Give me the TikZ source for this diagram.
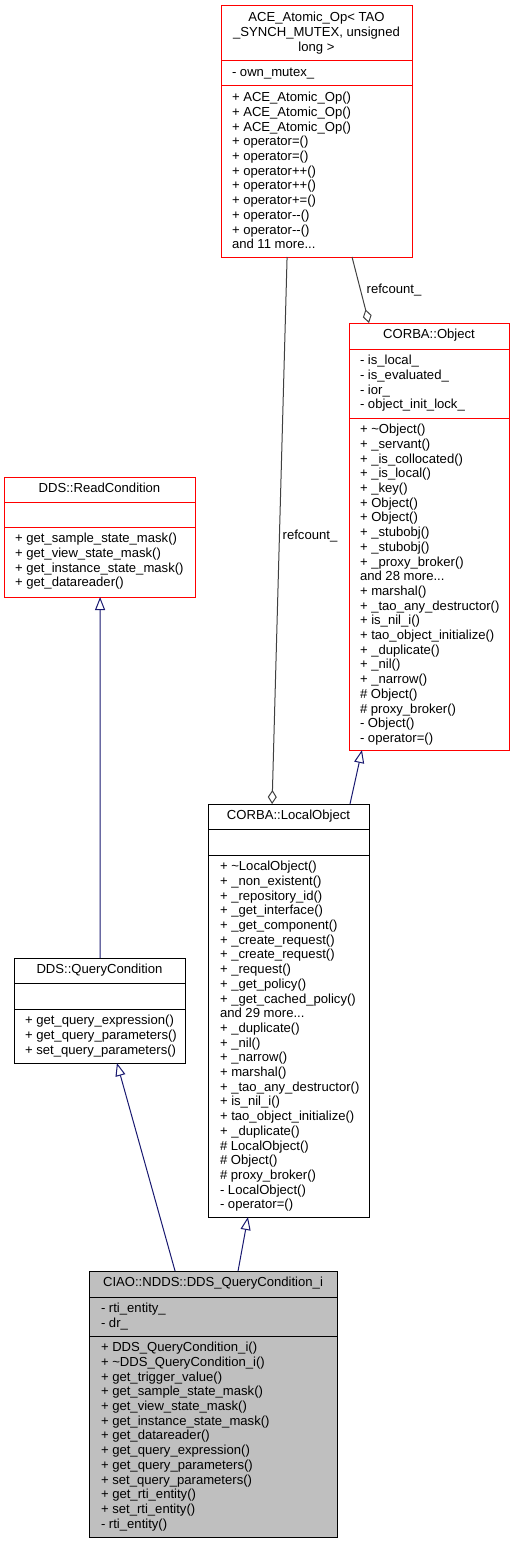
\documentclass[tikz,border=0pt]{standalone}
\usepackage{fontspec}
\setmainfont{Liberation Sans}
\usetikzlibrary{arrows.meta,calc}
\definecolor{edgegray}{HTML}{404040}
\definecolor{navyblue}{HTML}{191970}
\definecolor{boxred}{HTML}{FF0000}
\definecolor{fillgray}{HTML}{BFBFBF}
\newcommand{\fs}{\rule{0pt}{11pt}}
\newcommand{\tld}{\textasciitilde}
\begin{document}
\begin{tikzpicture}[x=1pt,y=-1pt,
  redbox/.style={draw=boxred, line width=1pt, inner sep=0pt, outer sep=0pt, anchor=north west},
  blackbox/.style={draw=black, line width=1pt, inner sep=0pt, outer sep=0pt, anchor=north west},
  txt/.style={inner sep=0pt, outer sep=0pt, align=left, anchor=north west, font=\fontsize{13.1}{14.7}\selectfont},
  ttl/.style={inner sep=0pt, outer sep=0pt, align=center, anchor=north, font=\fontsize{13.1}{14.7}\selectfont},
  lbl/.style={inner sep=0pt, outer sep=0pt, font=\fontsize{13.1}{14.7}\selectfont},
  agg/.style={draw=edgegray, line width=1pt, -{Diamond[open,length=14pt,width=9pt]}},
  inh/.style={draw=navyblue, line width=1pt, -{Triangle[open,length=13pt,width=10pt]}}
]
\useasboundingbox (0,0) rectangle (515,1544);

% ---------- ACE_Atomic_Op ----------
\node[redbox, minimum width=191pt, minimum height=251pt] (ace) at (221,6) {};
\draw[boxred, line width=1pt] (ace.west |- 0,61) -- (ace.east |- 0,61);
\draw[boxred, line width=1pt] (ace.west |- 0,86) -- (ace.east |- 0,86);
\node[ttl] (acet) at (316.5,10.7) {\fs ACE\_Atomic\_Op< TAO\\\_SYNCH\_MUTEX, unsigned\\long >};
\node[txt] (acea) at (232,65.7) {\fs - own\_mutex\_};
\node[txt] (acem) at (232,90.7) {\fs + ACE\_Atomic\_Op()\\+ ACE\_Atomic\_Op()\\+ ACE\_Atomic\_Op()\\+ operator=()\\+ operator=()\\+ operator++()\\+ operator++()\\+ operator+=()\\+ operator-{}-()\\+ operator-{}-()\\and 11 more...};

% ---------- CORBA::Object ----------
\node[redbox, minimum width=160pt, minimum height=427pt] (obj) at (349,323) {};
\draw[boxred, line width=1pt] (obj.west |- 0,349) -- (obj.east |- 0,349);
\draw[boxred, line width=1pt] (obj.west |- 0,418) -- (obj.east |- 0,418);
\node[ttl] (objt) at (429,327.7) {\fs CORBA::Object};
\node[txt] (obja) at (360,353.7) {\fs - is\_local\_\\- is\_evaluated\_\\- ior\_\\- object\_init\_lock\_};
\node[txt] (objm) at (360,422.7) {\fs + \tld Object()\\+ \_servant()\\+ \_is\_collocated()\\+ \_is\_local()\\+ \_key()\\+ Object()\\+ Object()\\+ \_stubobj()\\+ \_stubobj()\\+ \_proxy\_broker()\\and 28 more...\\+ marshal()\\+ \_tao\_any\_destructor()\\+ is\_nil\_i()\\+ tao\_object\_initialize()\\+ \_duplicate()\\+ \_nil()\\+ \_narrow()\\\# Object()\\\# proxy\_broker()\\- Object()\\- operator=()};

% ---------- DDS::ReadCondition ----------
\node[redbox, minimum width=191pt, minimum height=120pt] (rc) at (4,477) {};
\draw[boxred, line width=1pt] (rc.west |- 0,502) -- (rc.east |- 0,502);
\draw[boxred, line width=1pt] (rc.west |- 0,527) -- (rc.east |- 0,527);
\node[ttl] (rct) at (99.5,481.7) {\fs DDS::ReadCondition};
\node[txt] (rcm) at (15,531.7) {\fs + get\_sample\_state\_mask()\\+ get\_view\_state\_mask()\\+ get\_instance\_state\_mask()\\+ get\_datareader()};

% ---------- DDS::QueryCondition ----------
\node[blackbox, minimum width=171pt, minimum height=105pt] (qc) at (14,958) {};
\draw[black, line width=1pt] (qc.west |- 0,983) -- (qc.east |- 0,983);
\draw[black, line width=1pt] (qc.west |- 0,1009) -- (qc.east |- 0,1009);
\node[ttl] (qct) at (99.5,962.7) {\fs DDS::QueryCondition};
\node[txt] (qcm) at (25,1013.7) {\fs + get\_query\_expression()\\+ get\_query\_parameters()\\+ set\_query\_parameters()};

% ---------- CORBA::LocalObject ----------
\node[blackbox, minimum width=161pt, minimum height=413pt] (lo) at (208,804) {};
\draw[black, line width=1pt] (lo.west |- 0,829) -- (lo.east |- 0,829);
\draw[black, line width=1pt] (lo.west |- 0,855) -- (lo.east |- 0,855);
\node[ttl] (lot) at (288.5,808.7) {\fs CORBA::LocalObject};
\node[txt] (lom) at (220,859.7) {\fs + \tld LocalObject()\\+ \_non\_existent()\\+ \_repository\_id()\\+ \_get\_interface()\\+ \_get\_component()\\+ \_create\_request()\\+ \_create\_request()\\+ \_request()\\+ \_get\_policy()\\+ \_get\_cached\_policy()\\and 29 more...\\+ \_duplicate()\\+ \_nil()\\+ \_narrow()\\+ marshal()\\+ \_tao\_any\_destructor()\\+ is\_nil\_i()\\+ tao\_object\_initialize()\\+ \_duplicate()\\\# LocalObject()\\\# Object()\\\# proxy\_broker()\\- LocalObject()\\- operator=()};

% ---------- CIAO::NDDS::DDS_QueryCondition_i ----------
\node[blackbox, fill=fillgray, minimum width=248pt, minimum height=266pt] (ciao) at (89,1271) {};
\draw[black, line width=1pt] (ciao.west |- 0,1297) -- (ciao.east |- 0,1297);
\draw[black, line width=1pt] (ciao.west |- 0,1336) -- (ciao.east |- 0,1336);
\node[ttl] (ciaot) at (213,1275.7) {\fs CIAO::NDDS::DDS\_QueryCondition\_i};
\node[txt] (ciaoa) at (101,1301.7) {\fs - rti\_entity\_\\- dr\_};
\node[txt] (ciaom) at (101,1340.7) {\fs + DDS\_QueryCondition\_i()\\+ \tld DDS\_QueryCondition\_i()\\+ get\_trigger\_value()\\+ get\_sample\_state\_mask()\\+ get\_view\_state\_mask()\\+ get\_instance\_state\_mask()\\+ get\_datareader()\\+ get\_query\_expression()\\+ get\_query\_parameters()\\+ set\_query\_parameters()\\+ get\_rti\_entity()\\+ set\_rti\_entity()\\- rti\_entity()};

% ---------- connectors ----------
\draw[agg] ($(ace.south west)!0.686!(ace.south east)$) -- ($(obj.north west)!0.125!(obj.north east)$);
\node[lbl] (l1) at (394,290) {refcount\_};
\draw[agg] ($(ace.south west)!0.346!(ace.south east)$) -- ($(lo.north west)!0.398!(lo.north east)$);
\node[lbl] (l2) at (310,536) {refcount\_};
\draw[inh] ($(lo.north west)!0.882!(lo.north east)$) -- ($(obj.south west)!0.081!(obj.south east)$);
\draw[inh] ($(qc.north west)!0.503!(qc.north east)$) -- ($(rc.south west)!0.503!(rc.south east)$);
\draw[inh] ($(ciao.north west)!0.347!(ciao.north east)$) -- ($(qc.south west)!0.602!(qc.south east)$);
\draw[inh] ($(ciao.north west)!0.601!(ciao.north east)$) -- ($(lo.south west)!0.248!(lo.south east)$);
\end{tikzpicture}
\end{document}
